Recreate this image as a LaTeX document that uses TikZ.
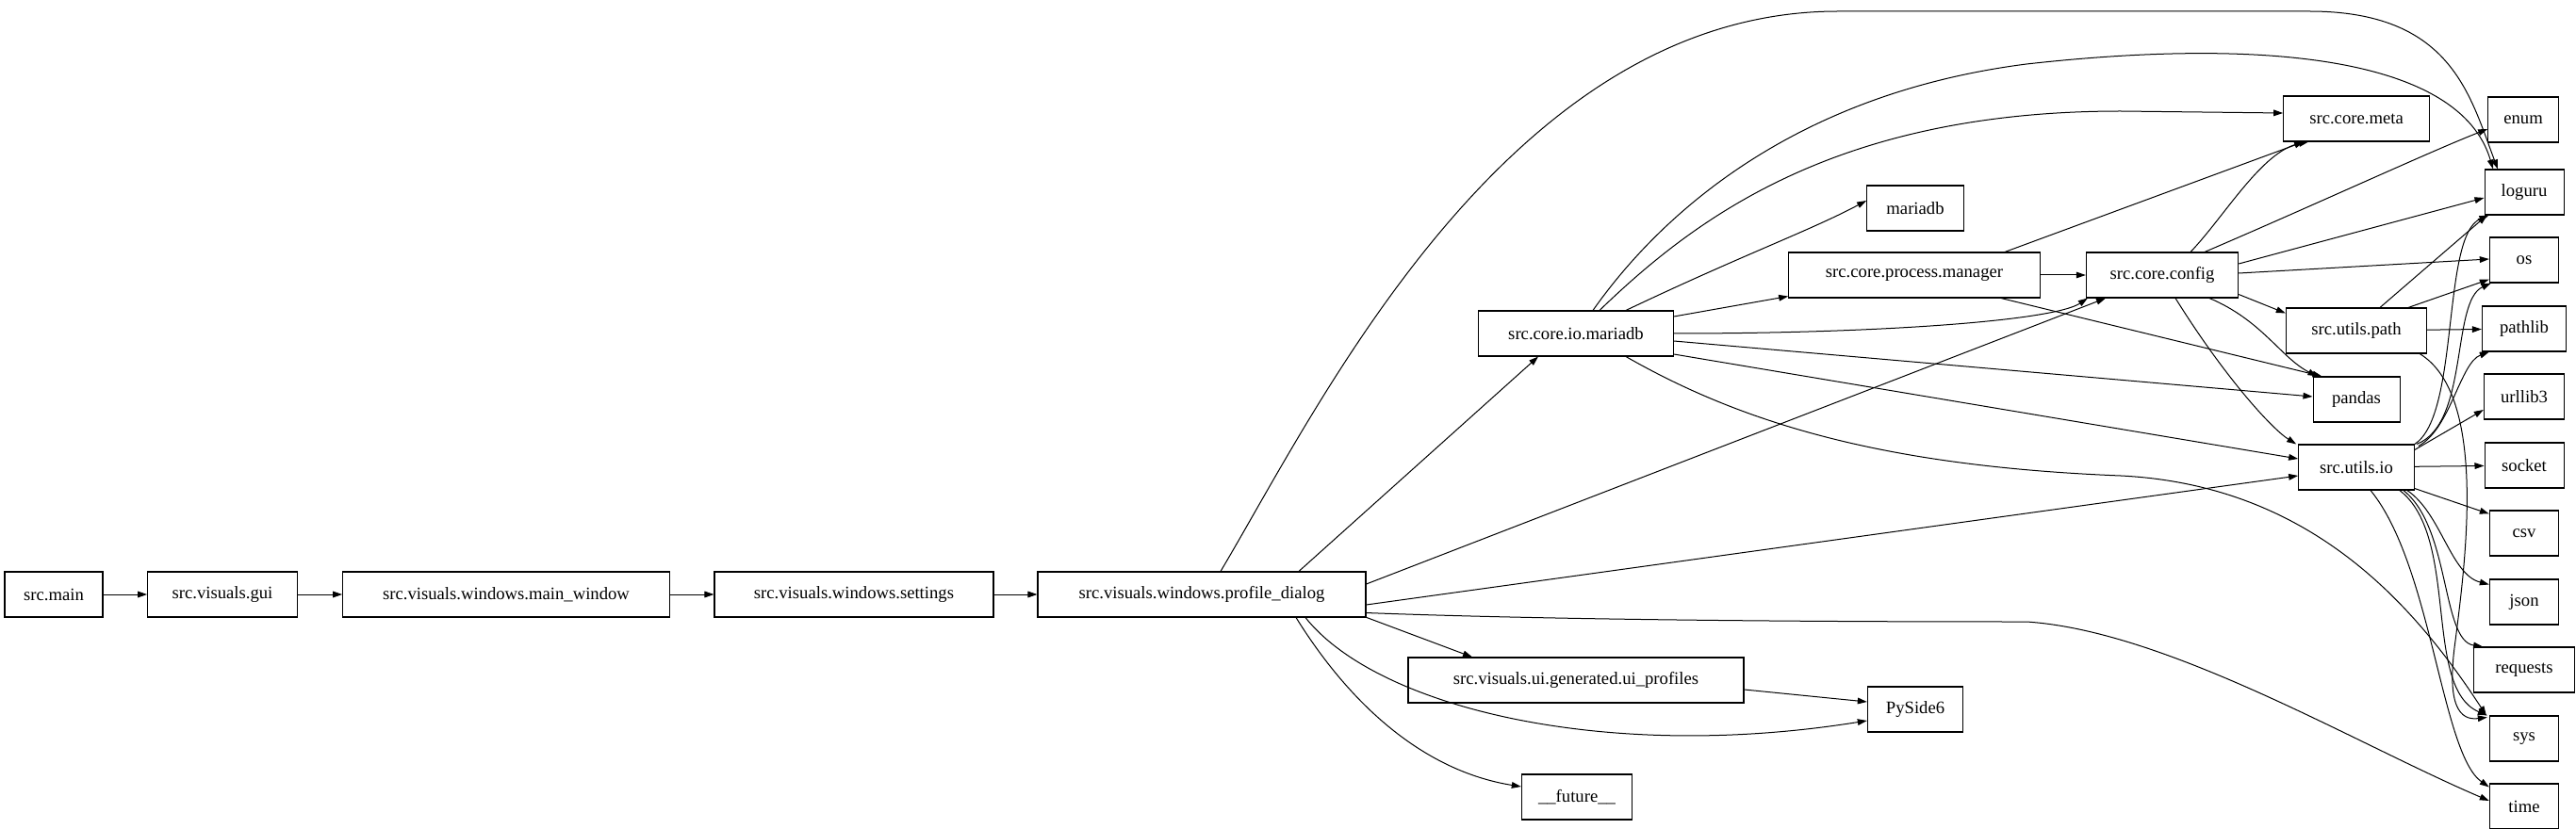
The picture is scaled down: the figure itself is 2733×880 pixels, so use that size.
\documentclass[tikz,border=0pt]{standalone}
\usepackage{fontspec}
\setmainfont{Liberation Serif}
\usetikzlibrary{arrows.meta,calc}
\begin{document}
\begin{tikzpicture}[x=0.75pt,y=-0.75pt,
  box/.style={draw,line width=0.8pt,minimum height=36pt,inner xsep=3pt,font=\fontsize{14}{16}\selectfont},
  edge/.style={draw,line width=0.75pt,-{Triangle[length=7.5pt,width=5pt]}}]
\useasboundingbox (0,0) rectangle (2733,880);
\node[box,minimum width=78pt] (main) at (57,631) {src.main};
\node[box,minimum width=119pt] (gui) at (236,631) {src.visuals.gui};
\node[box,minimum width=260pt] (mw) at (537,631) {src.visuals.windows.main\_window};
\node[box,minimum width=222pt] (set) at (906,631) {src.visuals.windows.settings};
\node[box,minimum width=261pt] (dlg) at (1275,631) {src.visuals.windows.profile\_dialog};
\node[box,minimum width=155pt] (cio) at (1672,354) {src.core.io.mariadb};
\node[box,minimum width=267pt] (uip) at (1672,722) {src.visuals.ui.generated.ui\_profiles};
\node[box,minimum width=88pt] (fut) at (1673,846) {\_\_future\_\_};
\node[box,minimum width=77pt] (mdb) at (2032,221) {mariadb};
\node[box,minimum width=200pt] (pm) at (2031,292) {src.core.process.manager};
\node[box,minimum width=76pt] (pys) at (2032,753) {PySide6};
\node[box,minimum width=121pt] (cfg) at (2294,292) {src.core.config};
\node[box,minimum width=116pt] (meta) at (2500,126) {src.core.meta};
\node[box,minimum width=112pt] (path) at (2500,351) {src.utils.path};
\node[box,minimum width=69pt] (pd) at (2500,424) {pandas};
\node[box,minimum width=92pt] (io) at (2500,496) {src.utils.io};
\node[box,minimum width=56pt] (enum) at (2677,127) {enum};
\node[box,minimum width=63pt] (log) at (2678,204) {loguru};
\node[box,minimum width=55pt] (os) at (2678,276) {os};
\node[box,minimum width=67pt] (pl) at (2678,349) {pathlib};
\node[box,minimum width=64pt] (url) at (2678,421) {urllib3};
\node[box,minimum width=63pt] (sock) at (2678,494) {socket};
\node[box,minimum width=55pt] (csv) at (2678,566) {csv};
\node[box,minimum width=55pt] (json) at (2678,639) {json};
\node[box,minimum width=80pt] (req) at (2678,711) {requests};
\node[box,minimum width=55pt] (sys) at (2678,784) {sys};
\node[box,minimum width=55pt] (time) at (2678,856) {time};
% chain
\draw[edge] (main) -- (gui);
\draw[edge] (gui) -- (mw);
\draw[edge] (mw) -- (set);
\draw[edge] (set) -- (dlg);
% dialog
\draw[edge] ($(dlg.north)+(20,0)$) .. controls (1400,430) and (1600,12) .. (1950,12) -- (2450,12) .. controls (2600,12) and (2620,100) .. ($(log.north)+(-28,0)$);
\draw[edge] ($(dlg.north)+(103,0)$) -- ($(cio.south)+(-40,0)$);
\draw[edge] ($(dlg.east)+(0,-11)$) -- ($(cfg.south)+(-60,0)$);
\draw[edge] ($(dlg.east)+(0,11)$) -- ($(io.west)+(0,9)$);
\draw[edge] ($(dlg.south east)+(0,-5)$) .. controls (1700,660) and (2050,660) .. (2150,660) .. controls (2300,670) and (2500,790) .. ($(time.west)+(0,-6)$);
\draw[edge] ($(dlg.south)+(175,0)$) -- ($(uip.north)+(-110,0)$);
\draw[edge] ($(dlg.south)+(110,0)$) .. controls (1460,750) and (1700,810) .. ($(pys.west)+(0,12)$);
\draw[edge] ($(dlg.south)+(100,0)$) .. controls (1440,760) and (1520,820) .. ($(fut.west)+(0,-11)$);
% core.io.mariadb
\draw[edge] ($(cio.north)+(18,0)$) .. controls (1760,230) and (1900,100) .. (2150,68) .. controls (2400,40) and (2610,60) .. ($(log.north)+(-33,0)$);
\draw[edge] ($(cio.north)+(25,0)$) .. controls (1800,230) and (1950,118) .. (2250,118) -- ($(meta.west)+(0,-6)$);
\draw[edge] ($(cio.north)+(53,0)$) .. controls (1850,270) and (1920,245) .. ($(mdb.west)+(0,-8)$);
\draw[edge] ($(cio.east)+(0,-18)$) -- ($(pm.south west)+(0,-2)$);
\draw[edge] (cio.east) .. controls (2000,354) and (2180,340) .. ($(cfg.south west)+(2,0)$);
\draw[edge] ($(cio.east)+(0,8)$) -- ($(pd.west)+(0,-3)$);
\draw[edge] ($(cio.east)+(0,22)$) -- ($(io.west)+(0,-9)$);
\draw[edge] ($(cio.south)+(53,0)$) .. controls (1850,450) and (2000,495) .. (2250,505) .. controls (2450,515) and (2560,640) .. ($(sys.north west)+(-3,0)$);
% process manager
\draw[edge] ($(pm.north)+(96,0)$) -- ($(meta.south west)+(22,0)$);
\draw[edge] (pm) -- (cfg);
\draw[edge] ($(pm.south)+(92,0)$) -- ($(pd.north west)+(10,0)$);
% config
\draw[edge] ($(cfg.north)+(30,0)$) .. controls (2360,230) and (2400,160) .. ($(meta.south west)+(27,0)$);
\draw[edge] ($(cfg.north)+(45,0)$) .. controls (2450,220) and (2580,160) .. ($(enum.west)+(0,10)$);
\draw[edge] ($(cfg.east)+(0,-12)$) -- ($(log.west)+(0,6)$);
\draw[edge] ($(cfg.east)+(0,-2)$) -- ($(os.west)+(0,-1)$);
\draw[edge] ($(cfg.south east)+(0,-4)$) -- ($(path.north west)+(0,6)$);
\draw[edge] ($(cfg.south)+(50,0)$) .. controls (2400,340) and (2420,380) .. ($(pd.north west)+(5,0)$);
\draw[edge] ($(cfg.south)+(14,0)$) .. controls (2360,400) and (2410,455) .. ($(io.north west)+(-2,0)$);
% path
\draw[edge] ($(path.north)+(25,0)$) -- ($(log.south west)+(3,0)$);
\draw[edge] ($(path.north)+(55,0)$) -- ($(os.south west)+(0,-4)$);
\draw[edge] (path) -- (pl);
\draw[edge] ($(path.south east)+(-8,0)$) .. controls (2640,420) and (2615,600) .. (2605,680) .. controls (2595,750) and (2610,765) .. ($(sys.north west)+(-2,2)$);
% io
\draw[edge] ($(io.north east)+(0,0)$) .. controls (2610,440) and (2590,250) .. ($(log.south west)+(5,0)$);
\draw[edge] ($(io.north east)+(2,0)$) .. controls (2620,450) and (2600,320) .. ($(os.south west)+(2,0)$);
\draw[edge] ($(io.north east)+(4,2)$) .. controls (2600,455) and (2610,385) .. ($(pl.south west)+(8,0)$);
\draw[edge] ($(io.north east)+(0,6)$) -- ($(url.west)+(0,14)$);
\draw[edge] (io) -- (sock);
\draw[edge] ($(io.south east)+(0,-2)$) -- ($(csv.north west)+(0,4)$);
\draw[edge] ($(io.south east)+(-8,0)$) .. controls (2590,545) and (2600,610) .. ($(json.north west)+(0,6)$);
\draw[edge] ($(io.south east)+(-12,0)$) .. controls (2600,560) and (2590,680) .. ($(req.north west)+(10,0)$);
\draw[edge] ($(io.south east)+(-16,0)$) .. controls (2610,570) and (2570,730) .. ($(sys.north west)+(-2,0)$);
\draw[edge] ($(io.south)+(15,0)$) .. controls (2580,600) and (2590,800) .. ($(time.north west)+(0,4)$);
% ui profiles
\draw[edge] ($(uip.east)+(0,10)$) -- ($(pys.west)+(0,-8)$);
\end{tikzpicture}
\end{document}
